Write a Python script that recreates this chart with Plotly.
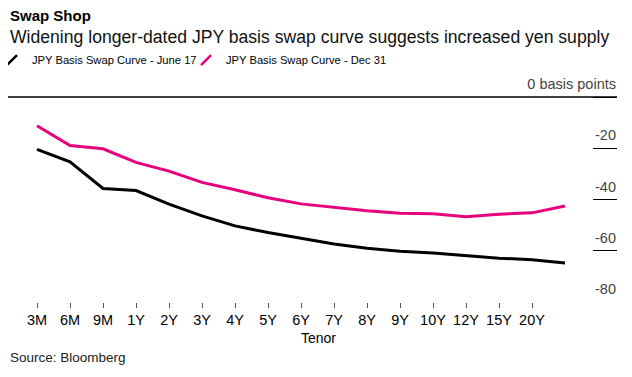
import plotly.graph_objects as go

tenors = ["3M", "6M", "9M", "1Y", "2Y", "3Y", "4Y", "5Y", "6Y", "7Y", "8Y",
          "9Y", "10Y", "12Y", "15Y", "20Y", "30Y"]
tick_labels = tenors[:-1]
june17 = [-20.4, -25.3, -35.7, -36.5, -41.8, -46.4, -50.3, -52.9, -55.1, -57.4,
          -59.0, -60.2, -60.9, -62.0, -62.9, -63.5, -64.8]
dec31 = [-11.2, -18.9, -20.2, -25.5, -28.9, -33.3, -36.2, -39.3, -41.7, -43.1,
         -44.4, -45.4, -45.6, -46.7, -45.7, -45.2, -42.5]
series_names = ["JPY Basis Swap Curve - June 17", "JPY Basis Swap Curve - Dec 31"]
y_ticks = [0, -20, -40, -60]
y_tick_text = ["0 basis points", "-20", "-40", "-60"]
y_low_tick = [-80]
y_low_text = ["-80"]

BLACK = "#000000"
PINK = "#e6007e"
FONT = "Liberation Sans"

# page body has an 8px margin, so the figure is laid out 8px smaller
OFF = 8
W, H = 632 - OFF, 377 - OFF
L, R = 0, 15
plot_w = W - L - R
yr = [-80, 9]
px_per_unit = 2.5625
bottom_px = 302 - OFF
B = H - bottom_px
T = bottom_px - (yr[1] - yr[0]) * px_per_unit
ph = H - T - B
dom = [(20.5 - OFF - L) / plot_w, (581.5 - OFF - L) / plot_w]
dom2 = [(593 - OFF - L) / plot_w, 1.0]

fig = go.Figure()
for vals, nm, col in [(june17, series_names[0], BLACK), (dec31, series_names[1], PINK)]:
    fig.add_trace(go.Scatter(x=tenors, y=vals, mode="lines", name=nm,
                             line=dict(color=col, width=3), showlegend=False,
                             xaxis="x", yaxis="y"))
# legend entries with slanted stroke icons (one legend each, placed side by side)
for nm, col, lg in [(series_names[0], BLACK, "legend"), (series_names[1], PINK, "legend2")]:
    fig.add_trace(go.Scatter(x=[None], y=[None], mode="markers", name=nm, legend=lg,
                             marker=dict(symbol="line-ne", size=10, line=dict(color=col, width=2.5)),
                             xaxis="x", yaxis="y"))
# carriers for the right-hand scale axes
fig.add_trace(go.Scatter(x=[None], y=[None], mode="lines", showlegend=False, hoverinfo="skip",
                         xaxis="x2", yaxis="y2"))
fig.add_trace(go.Scatter(x=[None], y=[None], mode="lines", showlegend=False, hoverinfo="skip",
                         xaxis="x3", yaxis="y3"))

def py(px_ref):
    return (H - B - (px_ref - OFF)) / ph

def pxp(px_ref):
    return (px_ref - OFF - L) / plot_w

leg_common = dict(orientation="h", xanchor="left", y=py(60), yanchor="middle",
                  font=dict(size=11.2, family=FONT), itemwidth=30,
                  bgcolor="rgba(0,0,0,0)", borderwidth=0)

fig.update_layout(
    template="none",
    width=W, height=H,
    margin=dict(l=L, r=R, t=T, b=B, pad=0, autoexpand=False),
    paper_bgcolor="white", plot_bgcolor="rgba(0,0,0,0)",
    font=dict(family=FONT, size=14, color="#000"),
    showlegend=True,
    legend=dict(x=-16 / plot_w, **leg_common),
    legend2=dict(x=178 / plot_w, **leg_common),
    xaxis=dict(domain=dom, type="category", categoryorder="array", categoryarray=tenors,
               range=[-0.5, len(tenors) - 0.5], tickvals=tick_labels, ticktext=tick_labels,
               ticks="outside", ticklen=5, tickwidth=1, tickcolor="#555", showgrid=False,
               showline=False, zeroline=False, tickfont=dict(size=14.5, family=FONT),
               anchor="y", automargin=False),
    yaxis=dict(domain=[0, 1], range=yr, visible=False, anchor="x", automargin=False),
    xaxis2=dict(domain=dom2, range=[0, 1], visible=False, anchor="y2", automargin=False),
    yaxis2=dict(domain=[0, 1], range=yr, anchor="x2", side="right", tickvals=y_ticks,
                ticktext=y_tick_text, showgrid=True, gridcolor="#000", gridwidth=1.2,
                zeroline=False, ticks="", ticklabelposition="inside", ticklabelshift=-13,
                ticklabelstandoff=-2,
                tickfont=dict(size=14.5, family=FONT), showline=False, automargin=False),
    xaxis3=dict(domain=dom2, range=[0, 1], visible=False, anchor="y3", automargin=False),
    yaxis3=dict(domain=[0, 1], range=yr, anchor="x3", side="right", tickvals=y_low_tick,
                ticktext=y_low_text, showgrid=True, gridcolor="#888", gridwidth=1.5,
                zeroline=False, ticks="", ticklabelposition="inside", ticklabelshift=-13,
                ticklabelstandoff=-2,
                tickfont=dict(size=14.5, family=FONT), showline=False, automargin=False),
)

# full-width zero baseline
fig.add_shape(type="line", xref="paper", yref="y", x0=0, x1=1, y0=0, y1=0,
              line=dict(color="#000", width=1.5), layer="above")

fig.add_annotation(text="<b>Swap Shop</b>", xref="paper", yref="paper", x=0, y=py(15),
                   xanchor="left", yanchor="middle", showarrow=False,
                   font=dict(size=15, family=FONT, color="#000"))
fig.add_annotation(text="Widening longer-dated JPY basis swap curve suggests increased yen supply",
                   xref="paper", yref="paper", x=0, y=py(37), xanchor="left", yanchor="middle",
                   showarrow=False, font=dict(size=17.6, family=FONT, color="#111"))
fig.add_annotation(text="Tenor", xref="paper", yref="paper", x=pxp(318), y=py(338),
                   xanchor="center", yanchor="middle", showarrow=False,
                   font=dict(size=14, family=FONT, color="#000"))
fig.add_annotation(text="Source: Bloomberg", xref="paper", yref="paper", x=0, y=py(358),
                   xanchor="left", yanchor="middle", showarrow=False,
                   font=dict(size=13.5, family=FONT, color="#222"))

fig.write_html("out.html")
